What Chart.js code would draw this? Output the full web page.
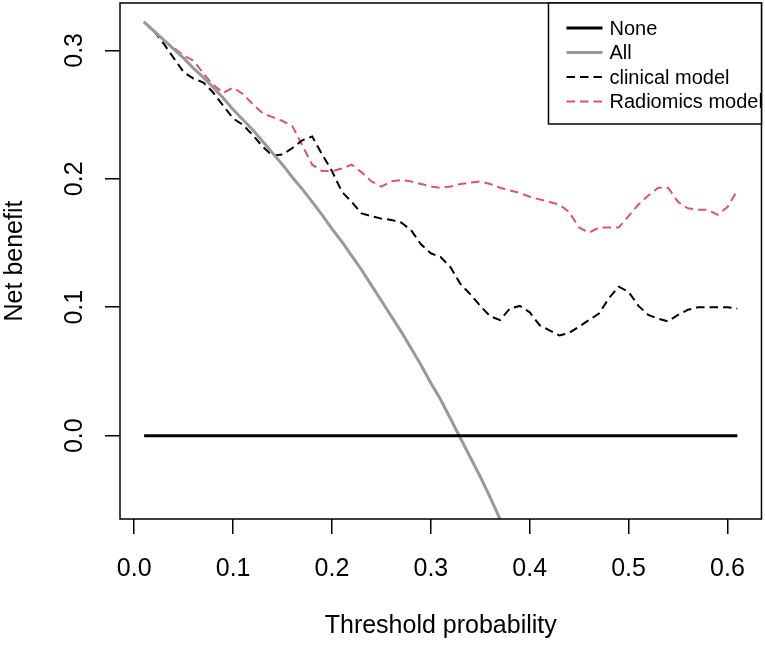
<!DOCTYPE html>
<html lang="en">
<head>
<meta charset="UTF-8">
<title>Decision curve</title>
<script src="https://cdn.jsdelivr.net/npm/chart.js"></script>
<style>
  html, body { margin: 0; padding: 0; background: #fff; }
  #wrap { width: 765px; height: 645px; }
</style>
</head>
<body>
<div id="wrap"><canvas id="dca" width="765" height="645"></canvas></div>
<script>
// threshold probabilities (x)
const thresholds = [
  0.01, 0.02, 0.03, 0.04, 0.05, 0.06, 0.07, 0.08, 0.09, 0.10,
  0.11, 0.12, 0.13, 0.14, 0.15, 0.16, 0.17, 0.18, 0.19, 0.20,
  0.21, 0.22, 0.23, 0.24, 0.25, 0.26, 0.27, 0.28, 0.29, 0.30,
  0.31, 0.32, 0.33, 0.34, 0.35, 0.36, 0.37, 0.38, 0.39, 0.40,
  0.41, 0.42, 0.43, 0.44, 0.45, 0.46, 0.47, 0.48, 0.49, 0.50,
  0.51, 0.52, 0.53, 0.54, 0.55, 0.56, 0.57, 0.58, 0.59, 0.60,
  0.61
];

// net benefit
const noneNB = [
  0, 0, 0, 0, 0, 0, 0, 0, 0, 0,
  0, 0, 0, 0, 0, 0, 0, 0, 0, 0,
  0, 0, 0, 0, 0, 0, 0, 0, 0, 0,
  0, 0, 0, 0, 0, 0, 0, 0, 0, 0,
  0, 0, 0, 0, 0, 0, 0, 0, 0, 0,
  0, 0, 0, 0, 0, 0, 0, 0, 0, 0,
  0
];
// "All" leaves the plot below 0.37, so only the first 40 thresholds
const allNB = [
  0.322, 0.315, 0.308, 0.301, 0.294, 0.286, 0.279, 0.271, 0.263, 0.254,
  0.246, 0.238, 0.229, 0.220, 0.211, 0.201, 0.192, 0.182, 0.172, 0.161,
  0.151, 0.140, 0.129, 0.117, 0.105, 0.093, 0.081, 0.068, 0.055, 0.041,
  0.028, 0.013, -0.002, -0.017, -0.032, -0.048, -0.065, -0.082, -0.100, -0.118
];
const clinicalNB = [
  0.322, 0.315, 0.305, 0.294, 0.283, 0.278, 0.275, 0.267, 0.257, 0.247,
  0.242, 0.234, 0.225, 0.218, 0.219, 0.224, 0.230, 0.233, 0.219, 0.206,
  0.190, 0.182, 0.173, 0.171, 0.169, 0.168, 0.166, 0.160, 0.149, 0.142,
  0.139, 0.131, 0.118, 0.110, 0.101, 0.093, 0.090, 0.099, 0.101, 0.096,
  0.086, 0.082, 0.078, 0.080, 0.085, 0.090, 0.095, 0.107, 0.116, 0.112,
  0.101, 0.094, 0.091, 0.089, 0.094, 0.098, 0.100, 0.100, 0.100, 0.100,
  0.099
];
const radiomicsNB = [
  0.322, 0.315, 0.308, 0.302, 0.296, 0.292, 0.282, 0.273, 0.267, 0.271,
  0.266, 0.258, 0.251, 0.248, 0.245, 0.241, 0.226, 0.211, 0.206, 0.206,
  0.208, 0.211, 0.205, 0.198, 0.194, 0.198, 0.199, 0.198, 0.196, 0.194,
  0.193, 0.194, 0.196, 0.197, 0.198, 0.196, 0.193, 0.191, 0.189, 0.186,
  0.184, 0.182, 0.180, 0.174, 0.162, 0.158, 0.162, 0.162, 0.162, 0.171,
  0.180, 0.187, 0.193, 0.193, 0.182, 0.177, 0.176, 0.176, 0.172, 0.178,
  0.191
];

const seriesNames = ["None", "All", "clinical model", "Radiomics model"];
const xTicks = [0, 0.1, 0.2, 0.3, 0.4, 0.5, 0.6];
const yTicks = [0, 0.1, 0.2, 0.3];

const FONT = '"Liberation Sans", Arial, sans-serif';
Chart.defaults.font.family = FONT;
Chart.defaults.color = "#000";

function pairs(values) {
  return values.map((v, i) => ({ x: thresholds[i], y: v }));
}

// R style closed box round the plot region
const boxPlugin = {
  id: "box",
  afterDatasetsDraw(chart) {
    const a = chart.chartArea, ctx = chart.ctx;
    ctx.save();
    ctx.strokeStyle = "#000";
    ctx.lineWidth = 1.5;
    ctx.strokeRect(a.left, a.top, a.right - a.left, a.bottom - a.top);
    ctx.restore();
  }
};

// y tick labels written bottom-to-top like R's las = 0
const yLabelPlugin = {
  id: "ylabels",
  afterDraw(chart) {
    const sc = chart.scales.y, ctx = chart.ctx;
    ctx.save();
    ctx.font = "25px " + FONT;
    ctx.fillStyle = "#000";
    ctx.textAlign = "center";
    ctx.textBaseline = "middle";
    sc.ticks.forEach(t => {
      const py = sc.getPixelForValue(t.value);
      ctx.save();
      ctx.translate(chart.chartArea.left - 45, py);
      ctx.rotate(-Math.PI / 2);
      ctx.fillText(t.value.toFixed(1), 0, 0);
      ctx.restore();
    });
    ctx.restore();
  }
};

// legend box in the top right corner
const legendPlugin = {
  id: "rlegend",
  afterDraw(chart) {
    const a = chart.chartArea, ctx = chart.ctx;
    const w = 213, h = 121;
    const left = a.right - w, top = a.top;
    ctx.save();
    ctx.fillStyle = "#fff";
    ctx.fillRect(left, top, w, h);
    ctx.strokeStyle = "#000";
    ctx.lineWidth = 1.5;
    ctx.strokeRect(left, top, w, h);
    ctx.font = "20px " + FONT;
    ctx.textBaseline = "middle";
    ctx.textAlign = "left";
    chart.data.datasets.forEach((ds, i) => {
      const y = top + 25 + i * 24.5;
      ctx.beginPath();
      ctx.strokeStyle = ds.borderColor;
      ctx.lineWidth = ds.borderWidth;
      ctx.setLineDash(ds.borderDash || []);
      ctx.moveTo(left + 18, y);
      ctx.lineTo(left + 54, y);
      ctx.stroke();
      ctx.setLineDash([]);
      ctx.fillStyle = "#000";
      ctx.fillText(ds.label, left + 61, y + 1);
    });
    ctx.restore();
  }
};

const lineBase = { pointRadius: 0, tension: 0, fill: false, clip: 0, borderCapStyle: "butt" };

new Chart(document.getElementById("dca"), {
  type: "line",
  data: {
    datasets: [
      Object.assign({ label: seriesNames[0], data: pairs(noneNB), borderColor: "#000", borderWidth: 3 }, lineBase),
      Object.assign({ label: seriesNames[1], data: pairs(allNB), borderColor: "#999999", borderWidth: 3 }, lineBase),
      Object.assign({ label: seriesNames[2], data: pairs(clinicalNB), borderColor: "#000", borderWidth: 2, borderDash: [8.5, 5] }, lineBase),
      Object.assign({ label: seriesNames[3], data: pairs(radiomicsNB), borderColor: "#DF536B", borderWidth: 2, borderDash: [8.5, 5] }, lineBase)
    ]
  },
  options: {
    responsive: false,
    animation: false,
    devicePixelRatio: 1,
    layout: { padding: { top: 3, right: 3, left: 0, bottom: 0 } },
    plugins: { legend: { display: false }, tooltip: { enabled: false } },
    scales: {
      x: {
        type: "linear",
        min: -0.0144,
        max: 0.6344,
        afterBuildTicks: s => { s.ticks = xTicks.map(v => ({ value: v })); },
        afterFit: s => { s.height = 126; },
        border: { display: false },
        grid: { drawOnChartArea: false, drawTicks: true, tickLength: 15, color: "#000", lineWidth: 1.5 },
        ticks: {
          font: { size: 25 },
          color: "#000",
          padding: 20,
          maxRotation: 0,
          autoSkip: false,
          callback: v => v.toFixed(1)
        },
        title: { display: true, text: "Threshold probability", font: { size: 25 }, color: "#000", padding: { top: 0, bottom: 4 } }
      },
      y: {
        type: "linear",
        min: -0.0649,
        max: 0.3369,
        afterBuildTicks: s => { s.ticks = yTicks.map(v => ({ value: v })); },
        afterFit: s => { s.width = 120; },
        border: { display: false },
        grid: { drawOnChartArea: false, drawTicks: true, tickLength: 15, color: "#000", lineWidth: 1.5 },
        ticks: { display: false },
        title: { display: true, text: "Net benefit", font: { size: 25 }, color: "#000", padding: { top: 0, bottom: 0 } }
      }
    }
  },
  plugins: [boxPlugin, yLabelPlugin, legendPlugin]
});
</script>
</body>
</html>
